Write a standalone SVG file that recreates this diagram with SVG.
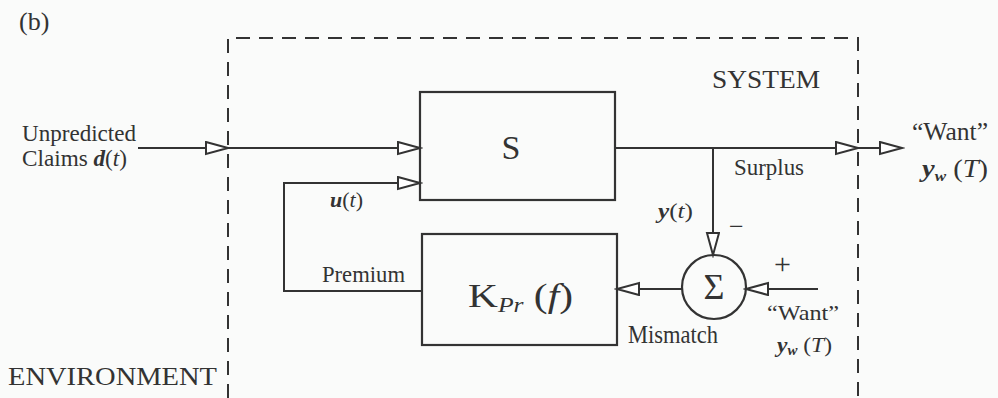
<svg xmlns="http://www.w3.org/2000/svg" width="998" height="398" viewBox="0 0 998 398">
<style>
  text { font-family: "Liberation Serif", "Times New Roman", serif; fill: #333; }
  .ln { stroke: #333; stroke-width: 2; fill: none; }
  .box { stroke: #333; stroke-width: 2.2; fill: none; }
  .dash { stroke: #333; stroke-width: 2; fill: none; stroke-dasharray: 14 9; }
  .it { font-style: italic; }
  .bi { font-style: italic; font-weight: bold; }
</style>
<defs>
  <marker id="arr" markerUnits="userSpaceOnUse" markerWidth="26" markerHeight="16" refX="23" refY="7" orient="auto">
    <path d="M1,1 L23,7 L1,13 Z" fill="#fff" stroke="#333" stroke-width="2"/>
  </marker>
</defs>
<rect width="998" height="398" fill="#fafbfa"/>

<g id="labels">
  <text x="19" y="30" font-size="26">(b)</text>
  <text x="22" y="141" font-size="23" textLength="114" lengthAdjust="spacingAndGlyphs">Unpredicted</text>
  <text x="22" y="166" font-size="23" textLength="105" lengthAdjust="spacingAndGlyphs">Claims <tspan class="bi">d</tspan>(<tspan class="it">t</tspan>)</text>
  <text x="712" y="88" font-size="26" textLength="108" lengthAdjust="spacingAndGlyphs">SYSTEM</text>
  <text x="734" y="175" font-size="23" textLength="70" lengthAdjust="spacingAndGlyphs">Surplus</text>
  <text x="330" y="207" font-size="21" textLength="33" lengthAdjust="spacingAndGlyphs"><tspan class="bi">u</tspan>(<tspan class="it">t</tspan>)</text>
  <text x="322" y="282" font-size="23" textLength="83" lengthAdjust="spacingAndGlyphs">Premium</text>
  <text x="658" y="218" font-size="21" textLength="35" lengthAdjust="spacingAndGlyphs"><tspan class="bi">y</tspan>(<tspan class="it">t</tspan>)</text>
  <text x="729" y="235" font-size="26">−</text>
  <text x="774" y="274" font-size="30">+</text>
  <text x="628" y="343" font-size="25" textLength="90" lengthAdjust="spacingAndGlyphs">Mismatch</text>
  <text x="767" y="320" font-size="22" textLength="72" lengthAdjust="spacingAndGlyphs">“Want”</text>
  <text x="777" y="352" font-size="22" textLength="55" lengthAdjust="spacingAndGlyphs"><tspan class="bi">y</tspan><tspan class="bi" font-size="14" dy="3">w</tspan><tspan dy="-3"> (</tspan><tspan class="it">T</tspan>)</text>
  <text x="912" y="140" font-size="25" textLength="76" lengthAdjust="spacingAndGlyphs">“Want”</text>
  <text x="922" y="177" font-size="25" textLength="66" lengthAdjust="spacingAndGlyphs"><tspan class="bi">y</tspan><tspan class="bi" font-size="15" dy="4">w</tspan><tspan dy="-4"> (</tspan><tspan class="it">T</tspan>)</text>
  <text x="8" y="385" font-size="26" textLength="209" lengthAdjust="spacingAndGlyphs">ENVIRONMENT</text>
</g>

<g id="system-boundary">
  <path class="dash" d="M228,398 L228,38 L858,38 L858,398"/>
</g>

<g id="S">
  <rect class="box" x="420" y="92" width="195" height="108"/>
  <text x="511" y="159" font-size="34" text-anchor="middle">S</text>
</g>

<g id="K">
  <rect class="box" x="422" y="234" width="195" height="111"/>
  <text x="468" y="307" font-size="34" textLength="105" lengthAdjust="spacingAndGlyphs">K<tspan class="it" font-size="21" dy="5">Pr</tspan><tspan dy="-5"> (</tspan><tspan class="it">f</tspan>)</text>
</g>

<g id="sum">
  <circle class="box" cx="714" cy="287" r="32"/>
  <text x="714" y="299" font-size="36" text-anchor="middle">Σ</text>
</g>

<g id="connectors">
  <line class="ln" x1="138" y1="148" x2="228" y2="148" marker-end="url(#arr)"/>
  <line class="ln" x1="228" y1="148" x2="420" y2="148" marker-end="url(#arr)"/>
  <line class="ln" x1="615" y1="148" x2="858" y2="148" marker-end="url(#arr)"/>
  <line class="ln" x1="858" y1="148" x2="902" y2="148" marker-end="url(#arr)"/>
  <line class="ln" x1="713" y1="148" x2="713" y2="255" marker-end="url(#arr)"/>
  <line class="ln" x1="818" y1="289" x2="746" y2="289" marker-end="url(#arr)"/>
  <line class="ln" x1="682" y1="289" x2="617" y2="289" marker-end="url(#arr)"/>
  <path class="ln" d="M422,291 L284,291 L284,183 L420,183" marker-end="url(#arr)"/>
</g>
</svg>
